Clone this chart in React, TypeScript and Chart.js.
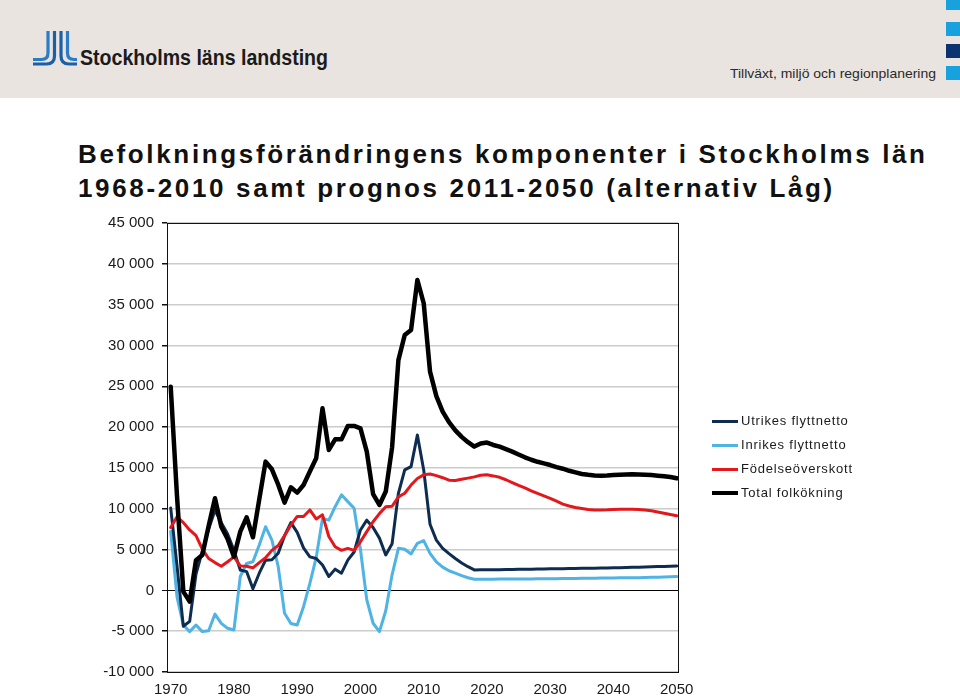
import React, { useEffect, useRef } from 'react';
import { Chart, registerables } from 'chart.js';

Chart.register(...registerables);

// ---------- DATA ----------
const years = [
  1970, 1971, 1972, 1973, 1974, 1975, 1976, 1977, 1978, 1979,
  1980, 1981, 1982, 1983, 1984, 1985, 1986, 1987, 1988, 1989,
  1990, 1991, 1992, 1993, 1994, 1995, 1996, 1997, 1998, 1999,
  2000, 2001, 2002, 2003, 2004, 2005, 2006, 2007, 2008, 2009,
  2010, 2011, 2012, 2013, 2014, 2015, 2016, 2017, 2018, 2019,
  2020, 2021, 2022, 2023, 2024, 2025, 2026, 2027, 2028, 2029,
  2030, 2031, 2032, 2033, 2034, 2035, 2036, 2037, 2038, 2039,
  2040, 2041, 2042, 2043, 2044, 2045, 2046, 2047, 2048, 2049,
  2050,
];

const utrikesFlyttnetto = [
  10100, 3000, -4400, -3800, 2000, 4800, 7500, 9800, 8300, 6900,
  4900, 2500, 2300, 200, 2100, 3700, 3750, 4550, 6700, 8300,
  7100, 5200, 4100, 3900, 3100, 1700, 2600, 2100, 3700, 4700,
  7400, 8600, 7700, 6400, 4340, 5700, 11890, 14750, 15160, 19040,
  14750, 8100, 6150, 5150, 4500, 3900, 3350, 2900, 2500, 2510,
  2520, 2530, 2540, 2550, 2570, 2580, 2590, 2600, 2610, 2620,
  2640, 2650, 2660, 2670, 2680, 2700, 2710, 2720, 2740, 2750,
  2770, 2780, 2800, 2820, 2840, 2860, 2880, 2910, 2930, 2960,
  2990,
];

const inrikesFlyttnetto = [
  7200, -800, -4250, -5050, -4250, -5050, -4950, -2900, -4050, -4650,
  -4850, 1700, 3300, 3500, 5550, 7800, 6150, 2900, -2800, -4050,
  -4250, -2000, 850, 4000, 8800, 8600, 10250, 11700, 10870, 10050,
  5000, -1150, -4030, -5050, -2500, 1900, 5150, 5030, 4460, 5770,
  6100, 4540, 3500, 2850, 2400, 2100, 1800, 1550, 1360, 1365,
  1370, 1375, 1380, 1385, 1390, 1395, 1400, 1405, 1410, 1415,
  1420, 1430, 1440, 1450, 1460, 1470, 1480, 1490, 1500, 1510,
  1520, 1530, 1540, 1550, 1560, 1580, 1600, 1620, 1640, 1660,
  1690,
];

const fodelseoverskott = [
  7700, 9000, 8300, 7400, 6700, 5050, 3900, 3400, 2950, 3500,
  4100, 3000, 2950, 2750, 3400, 4000, 4900, 5500, 6700, 8000,
  9050, 9050, 9850, 8750, 9250, 6600, 5350, 4900, 5150, 4900,
  5950, 7200, 8400, 9400, 10250, 10300, 11450, 11900, 12900, 13700,
  14150, 14250, 14050, 13800, 13500, 13450, 13600, 13750, 13900, 14100,
  14150, 14020, 13850, 13550, 13200, 12850, 12550, 12200, 11880, 11580,
  11280, 10920, 10560, 10330, 10150, 10020, 9900, 9850, 9850, 9860,
  9900, 9930, 9930, 9930, 9900, 9850, 9750, 9600, 9450, 9300,
  9150,
];

const totalFolkokning = [
  24950, 11500, -150, -1380, 3700, 4340, 7900, 11280, 7800, 6300,
  4130, 7200, 8950, 6500, 11150, 15770, 14830, 12950, 10750, 12630,
  11970, 12910, 14550, 16180, 22300, 17200, 18500, 18500, 20140, 20140,
  19850, 17000, 11800, 10460, 12100, 17500, 28200, 31290, 31900, 38020,
  35170, 26800, 23800, 21900, 20600, 19600, 18800, 18150, 17610, 18000,
  18100, 17810, 17600, 17300, 17000, 16650, 16300, 16000, 15750, 15550,
  15350, 15100, 14900, 14650, 14450, 14250, 14150, 14080, 14050, 14080,
  14130, 14170, 14200, 14220, 14200, 14160, 14120, 14050, 13980, 13880,
  13730,
];

const seriesNames = ['Utrikes flyttnetto', 'Inrikes flyttnetto', 'Födelseöverskott', 'Total folkökning'];
const seriesValues = [utrikesFlyttnetto, inrikesFlyttnetto, fodelseoverskott, totalFolkokning];
const seriesColors = ['#0e2c50', '#4fb3e4', '#e2181c', '#000000'];
const seriesWidths = [3, 3, 3, 4.5];
const seriesOrder = [2, 3, 1, 0];

const xTickYears = [1970, 1980, 1990, 2000, 2010, 2020, 2030, 2040, 2050];
const yMin = -10000;
const yMax = 45000;
const yStep = 5000;

const titleLine1 = 'Befolkningsförändringens komponenter i Stockholms län';
const titleLine2 = '1968-2010 samt prognos 2011-2050 (alternativ Låg)';
const orgName = 'Stockholms läns landsting';
const deptName = 'Tillväxt, miljö och regionplanering';

// ---------- HELPERS ----------
const FAMILY = '"Liberation Sans", Arial, Helvetica, sans-serif';

function measureText(text: string, font: string): number {
  if (typeof document === 'undefined') return 0;
  const ctx = document.createElement('canvas').getContext('2d');
  if (!ctx) return 0;
  ctx.font = font;
  return ctx.measureText(text).width;
}

function formatThousands(v: number): string {
  if (v === 0) return '0';
  const neg = v < 0;
  const s = String(Math.abs(Math.round(v)));
  const parts: string[] = [];
  for (let i = s.length; i > 0; i -= 3) parts.unshift(s.slice(Math.max(0, i - 3), i));
  return (neg ? '-' : '') + parts.join(' ');
}

const framePlugin = {
  id: 'frame',
  beforeDatasetsDraw(chart: any) {
    const { ctx, chartArea: a } = chart;
    ctx.save();
    ctx.strokeStyle = '#111';
    ctx.lineWidth = 1;
    ctx.strokeRect(Math.round(a.left) + 0.5, Math.round(a.top) + 0.5, Math.round(a.right - a.left), Math.round(a.bottom - a.top));
    ctx.restore();
  },
};

// ---------- COMPONENT ----------
export default function App() {
  const canvasRef = useRef<HTMLCanvasElement>(null);

  useEffect(() => {
    const canvas = canvasRef.current;
    if (!canvas) return;
    const chart = new Chart(canvas, {
      type: 'line',
      data: {
        datasets: seriesNames.map((name, i) => ({
          label: name,
          data: years.map((yr, j) => ({ x: yr, y: seriesValues[i][j] })),
          borderColor: seriesColors[i],
          backgroundColor: seriesColors[i],
          borderWidth: seriesWidths[i],
          pointRadius: 0,
          pointHoverRadius: 0,
          tension: 0,
          fill: false,
          order: seriesOrder[i],
          borderJoinStyle: 'round' as const,
          borderCapStyle: 'round' as const,
        })),
      },
      options: {
        animation: false,
        responsive: false,
        maintainAspectRatio: false,
        devicePixelRatio: 1,
        layout: { padding: { left: 100, top: 223, right: 282, bottom: 0 } },
        plugins: {
          legend: { display: false },
          tooltip: { enabled: false },
          title: { display: false },
        },
        scales: {
          x: {
            type: 'linear',
            min: 1969.415,
            max: 2050.205,
            afterBuildTicks: (s: any) => {
              s.ticks = xTickYears.map((v) => ({ value: v }));
            },
            afterFit: (s: any) => {
              s.height = 24;
            },
            grid: { display: false, drawTicks: false },
            border: { display: false },
            ticks: {
              autoSkip: false,
              maxRotation: 0,
              padding: 9,
              color: '#1a1a1a',
              font: { family: FAMILY, size: 15 },
              callback: (v: any) => String(v),
            },
          },
          y: {
            type: 'linear',
            min: yMin,
            max: yMax,
            afterFit: (s: any) => {
              s.width = 67;
            },
            ticks: {
              stepSize: yStep,
              padding: 8,
              color: '#1a1a1a',
              font: { family: FAMILY, size: 15 },
              callback: (v: any) => formatThousands(Number(v)),
            },
            grid: {
              color: (c: any) => (c.tick && c.tick.value === 0 ? '#000000' : '#cccccc'),
              lineWidth: (c: any) => (c.tick && c.tick.value === 0 ? 1 : 1.5),
              tickColor: '#111',
              tickLength: 5,
              drawTicks: true,
            },
            border: { display: false },
          },
        },
      },
      plugins: [framePlugin],
    } as any);
    return () => chart.destroy();
  }, []);

  const titleFont = `bold 26px ${FAMILY}`;
  const w1 = measureText(titleLine1, titleFont);
  const titleSpacing = w1 > 0 ? (847 - w1) / (titleLine1.length - 1) : 1.5;

  const orgFont = `bold 22px ${FAMILY}`;
  const wOrg = measureText(orgName, orgFont);
  const orgScale = wOrg > 0 ? 248 / wOrg : 1;

  const deptFont = `13px ${FAMILY}`;
  const wDept = measureText(deptName, deptFont);
  const deptScale = wDept > 0 ? 206 / wDept : 1;

  const legendRows = [421, 445, 469, 493];

  return (
    <div
      style={{
        position: 'fixed',
        left: 0,
        top: 0,
        width: 960,
        height: 696,
        background: '#ffffff',
        overflow: 'hidden',
        fontFamily: FAMILY,
      }}
    >
      {/* header band */}
      <div style={{ position: 'absolute', left: 0, top: 0, width: 960, height: 98, background: '#e9e4e0' }} />
      <svg style={{ position: 'absolute', left: 0, top: 0 }} width={100} height={98}>
        <path d="M48 31 V53 Q48 59.5 41.5 59.5 H33" stroke="#2a7cc6" strokeWidth={3.2} fill="none" />
        <path d="M54.5 31 V56 Q54.5 64 46.5 64 H33" stroke="#1d5fa7" strokeWidth={3.2} fill="none" />
        <path d="M61 31 V56 Q61 64 69 64 H77" stroke="#1d5fa7" strokeWidth={3.2} fill="none" />
        <path d="M67.5 31 V53 Q67.5 59.5 74 59.5 H77" stroke="#2a7cc6" strokeWidth={3.2} fill="none" />
      </svg>
      <div
        style={{
          position: 'absolute',
          left: 80,
          top: 47,
          fontSize: 22,
          lineHeight: '22px',
          fontWeight: 'bold',
          color: '#1b1b1b',
          whiteSpace: 'nowrap',
          transform: `scaleX(${orgScale})`,
          transformOrigin: 'left top',
        }}
      >
        {orgName}
      </div>
      <div
        style={{
          position: 'absolute',
          left: 730,
          top: 67,
          fontSize: 13,
          lineHeight: '13px',
          color: '#2a2a2a',
          whiteSpace: 'nowrap',
          transform: `scaleX(${deptScale})`,
          transformOrigin: 'left top',
        }}
      >
        {deptName}
      </div>
      <div style={{ position: 'absolute', left: 946, top: 0, width: 14, height: 10, background: '#17a2dd' }} />
      <div style={{ position: 'absolute', left: 946, top: 22, width: 14, height: 14, background: '#17a2dd' }} />
      <div style={{ position: 'absolute', left: 946, top: 44, width: 14, height: 14, background: '#0b3370' }} />
      <div style={{ position: 'absolute', left: 946, top: 66, width: 14, height: 14, background: '#17a2dd' }} />

      {/* title */}
      <div
        style={{
          position: 'absolute',
          left: 78,
          top: 141,
          fontSize: 26,
          lineHeight: '26px',
          fontWeight: 'bold',
          color: '#111',
          whiteSpace: 'nowrap',
          letterSpacing: `${titleSpacing}px`,
        }}
      >
        {titleLine1}
      </div>
      <div
        style={{
          position: 'absolute',
          left: 78,
          top: 174.5,
          fontSize: 26,
          lineHeight: '26px',
          fontWeight: 'bold',
          color: '#111',
          whiteSpace: 'nowrap',
          letterSpacing: `${titleSpacing}px`,
        }}
      >
        {titleLine2}
      </div>

      {/* chart */}
      <canvas
        ref={canvasRef}
        width={960}
        height={696}
        style={{ position: 'absolute', left: 0, top: 0, width: 960, height: 696 }}
      />

      {/* legend */}
      {seriesNames.map((name, i) => (
        <div
          key={name}
          style={{
            position: 'absolute',
            left: 712,
            top: legendRows[i] - 8,
            height: 16,
            display: 'flex',
            alignItems: 'center',
            whiteSpace: 'nowrap',
          }}
        >
          <div style={{ width: 26, height: i === 3 ? 4 : 3, background: seriesColors[i], marginRight: 3 }} />
          <span style={{ fontSize: 13, lineHeight: '16px', letterSpacing: '0.8px', color: '#1a1a1a' }}>{name}</span>
        </div>
      ))}
    </div>
  );
}
